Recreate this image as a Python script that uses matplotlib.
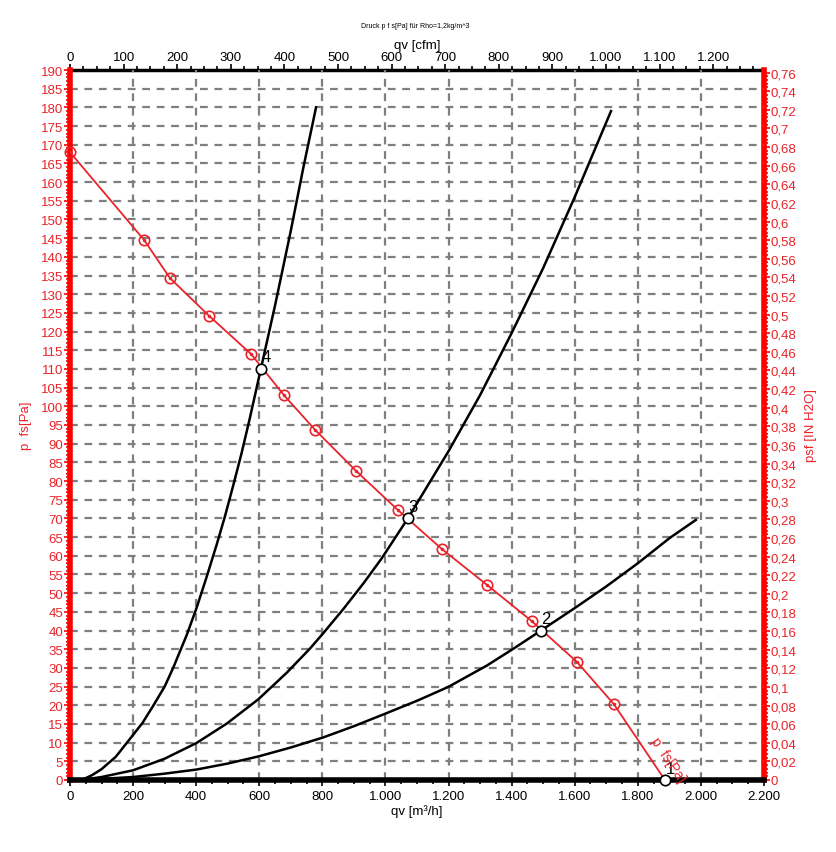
import numpy as np
import matplotlib
matplotlib.use('Agg')
from matplotlib import pyplot as plt
from matplotlib.ticker import MultipleLocator, FuncFormatter

plt.rcParams['font.family'] = ['Liberation Sans', 'DejaVu Sans']

# fan curve p fs [Pa] over qv [m3/h]
fan_q = [0, 235, 317, 441, 574, 678, 777, 907, 1040, 1179, 1322, 1464, 1607, 1724, 1886]
fan_p = [168, 144.5, 134.3, 124.2, 114.0, 103.0, 93.7, 82.7, 72.2, 61.8, 52.2, 42.5, 31.6, 20.3, 0]

# system curves
sysA_q = [37, 70, 100, 145, 190, 230, 264, 300, 327, 370, 401, 433, 465, 491, 518, 544, 570,
          605, 650, 700, 740, 780]
sysA_p = [0, 1.3, 2.9, 6.2, 11.0, 15.3, 19.9, 25.0, 30.0, 38.8, 46.0, 54.3, 63.0, 70.5, 79.0,
          87.5, 96.8, 110, 127, 147, 164, 180]
sysB_q = [37, 100, 200, 300, 401, 497, 597, 687, 761, 803, 866, 930, 988, 1071, 1200, 1300,
          1400, 1500, 1600, 1715]
sysB_p = [0, 0.8, 2.6, 5.7, 9.9, 15.1, 21.6, 28.7, 35.2, 39.3, 45.7, 52.6, 59.3, 70, 88, 103,
          119.6, 137, 156, 179]
sysC_q = [37, 200, 300, 401, 500, 597, 700, 803, 900, 998, 1100, 1199, 1321, 1405, 1493, 1600,
          1700, 1800, 1900, 1984]
sysC_p = [0, 0.8, 1.7, 2.8, 4.4, 6.3, 8.7, 11.4, 14.4, 17.7, 21.2, 24.9, 30.6, 35.1, 40, 46,
          51.8, 58, 64.7, 69.6]

# operating points
op_q = [1886, 1493, 1071, 605]
op_p = [0, 40, 70, 110]
op_lab = ['1', '2', '3', '4']

RED = '#e8242a'
SPINE_RED = '#ff0000'
GRID = '#7f7f7f'

fig = plt.figure(figsize=(8.37, 8.53), dpi=100)
ax = fig.add_axes([70/837, 1-781/853, 694/837, 710/853])

ax.set_xlim(0, 2200)
ax.set_ylim(0, 190)

# grid
for q in range(200, 2200, 200):
    ax.axvline(q, color=GRID, lw=1.6, ls=(0, (3.5, 3)), zorder=1)
for p in range(5, 190, 5):
    ax.axhline(p, color=GRID, lw=1.6, ls=(0, (3.5, 3)), zorder=1)

ax.plot(sysA_q, sysA_p, color='black', lw=1.8, zorder=3)
ax.plot(sysB_q, sysB_p, color='black', lw=1.8, zorder=3)
ax.plot(sysC_q, sysC_p, color='black', lw=1.8, zorder=3)

ax.plot(fan_q, fan_p, color=RED, lw=1.3, zorder=4)
ax.plot(fan_q[:-1], fan_p[:-1], ls='none', marker='o', ms=7.5, mfc='none',
        mec=RED, mew=1.2, zorder=5, clip_on=False)
ax.plot(fan_q[:-1], fan_p[:-1], ls='none', marker='.', ms=3, color=RED, zorder=5,
        clip_on=False)

ax.plot(op_q, op_p, ls='none', marker='o', ms=7.5, mfc='white', mec='black',
        mew=1.2, zorder=6, clip_on=False)
for q, p, s in zip(op_q, op_p, op_lab):
    ax.text(q + 2, p + 1.2, s, fontsize=12, color='black', ha='left', va='bottom', zorder=7)

ax.text(1895, 5.5, 'p  fs[Pa]', color=RED, fontsize=10, rotation=-56,
        ha='center', va='center', rotation_mode='anchor', zorder=7)

# bottom / left
ax.xaxis.set_major_locator(MultipleLocator(200))
ax.xaxis.set_minor_locator(MultipleLocator(50))
ax.xaxis.set_major_formatter(FuncFormatter(lambda v, pos: f"{int(round(v)):,}".replace(',', '.')))
ax.yaxis.set_major_locator(MultipleLocator(5))
ax.yaxis.set_minor_locator(MultipleLocator(1))
ax.tick_params(axis='x', labelsize=9.5, length=4, width=1.2, colors='black', pad=3)
ax.tick_params(axis='x', which='minor', length=3, width=1.2)
ax.tick_params(axis='y', labelsize=9.5, length=4, width=1.2, color=SPINE_RED,
               labelcolor=RED, pad=1)
ax.tick_params(axis='y', which='minor', length=3, width=1.2, color=SPINE_RED)
ax.set_xlabel('qv [m³/h]', fontsize=9.5, labelpad=2)
ax.set_ylabel('p  fs[Pa]', fontsize=9.5, color=RED, labelpad=6)

ax.spines['bottom'].set_linewidth(4)
ax.spines['bottom'].set_color('black')
ax.spines['left'].set_linewidth(4)
ax.spines['left'].set_color(SPINE_RED)
ax.spines['top'].set_visible(False)
ax.spines['right'].set_visible(False)

# top axis cfm
cfm = 0.588578
top = ax.secondary_xaxis('top', functions=(lambda q: q * cfm, lambda c: c / cfm))
top.xaxis.set_major_locator(MultipleLocator(100))
top.xaxis.set_minor_locator(MultipleLocator(25))
top.xaxis.set_major_formatter(FuncFormatter(lambda v, pos: f"{int(round(v)):,}".replace(',', '.')))
top.tick_params(axis='x', labelsize=9.5, length=4, width=1.2, pad=1)
top.tick_params(axis='x', which='minor', length=3, width=1.2)
top.spines['top'].set_linewidth(2.5)
top.set_xlabel('qv [cfm]', fontsize=9.5, labelpad=2)

# right axis inH2O
inh2o = 0.00401463
def fmt_in(v, pos):
    s = f"{v:.2f}".rstrip('0').rstrip('.')
    if s in ('', '-0'):
        s = '0'
    return s.replace('.', ',')
right = ax.secondary_yaxis('right', functions=(lambda p: p * inh2o, lambda i: i / inh2o))
right.yaxis.set_major_locator(MultipleLocator(0.02))
right.yaxis.set_minor_locator(MultipleLocator(0.004))
right.yaxis.set_major_formatter(FuncFormatter(fmt_in))
right.tick_params(axis='y', labelsize=9.5, length=4, width=1.2, color=SPINE_RED,
                  labelcolor=RED, pad=1)
right.tick_params(axis='y', which='minor', length=3, width=1.2, color=SPINE_RED)
right.spines['right'].set_linewidth(4)
right.spines['right'].set_color(SPINE_RED)
right.set_ylabel('psf [IN H2O]', fontsize=9.5, color=RED, labelpad=6)

fig.text(415/837, 1-27/853, 'Druck p f s[Pa] für Rho=1,2kg/m^3', fontsize=5,
         ha='center', va='center')

fig.savefig('out.png', dpi=100)
